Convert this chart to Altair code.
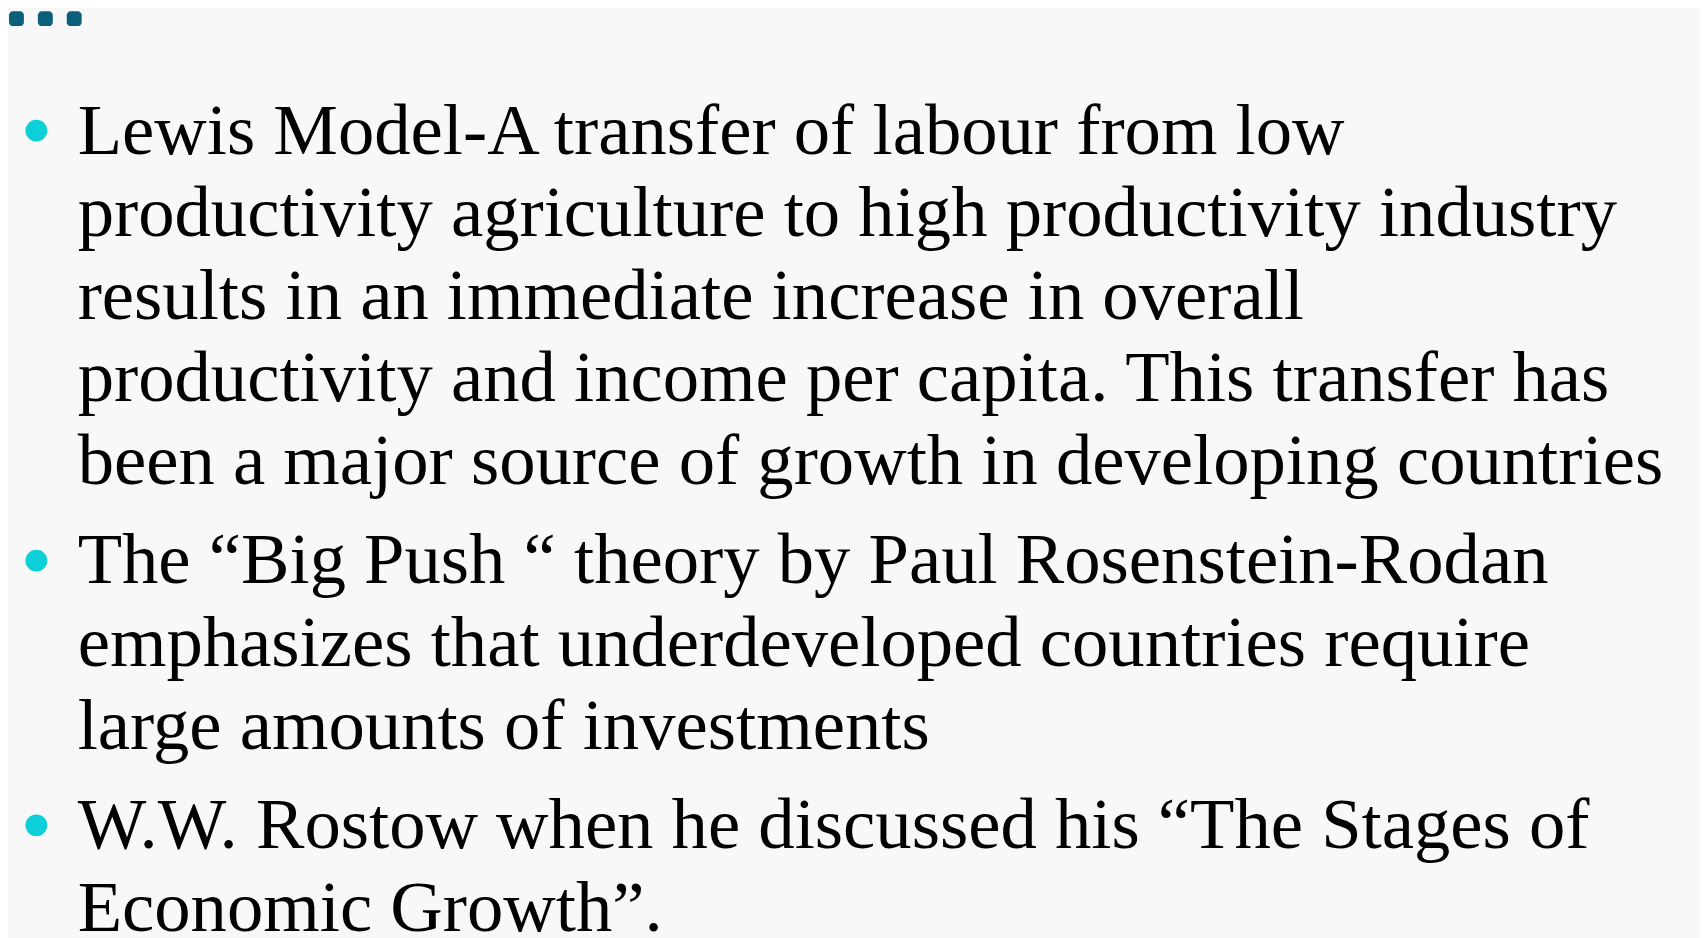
import altair as alt
import pandas as pd

# ---- content ----
BULLET_1 = [
    "Lewis Model-A transfer of labour from low",
    "productivity agriculture to high productivity industry",
    "results in an immediate increase in overall",
    "productivity and income per capita. This transfer has",
    "been a major source of growth in developing countries",
]
BULLET_2 = [
    "The “Big Push “ theory by Paul Rosenstein-Rodan",
    "emphasizes that underdeveloped countries require",
    "large amounts of investments",
]
BULLET_3 = [
    "W.W. Rostow when he discussed his “The Stages of",
    "Economic Growth”.",
]
BULLETS = [BULLET_1, BULLET_2, BULLET_3]
DECOR_DOTS = [0, 1, 2]

# ---- layout (screen pixels) ----
W, H, M = 1708, 938, 8
FIRST_BASELINE = 152
LINE_H = 83
PARA_EXTRA = 17
TEXT_X = 78
BULLET_X = 36.5
BULLET_RISE = 23
FONT = "Liberation Serif"
FONT_SIZE = 73

rows, bullets = [], []
g = 0
for p, lines in enumerate(BULLETS):
    for i, t in enumerate(lines):
        base = FIRST_BASELINE + g * LINE_H + p * PARA_EXTRA
        rows.append({"text": t, "x": TEXT_X, "y": base})
        if i == 0:
            bullets.append({"x": BULLET_X, "y": base - BULLET_RISE})
        g += 1
lines_df = pd.DataFrame(rows)
bullets_df = pd.DataFrame(bullets)
dots_df = pd.DataFrame({"i": DECOR_DOTS})
dots_df["x"] = 9 + dots_df["i"] * 29
dots_df["x2"] = dots_df["x"] + 15
dots_df["y"] = 9
dots_df["y2"] = 24

xs = alt.Scale(domain=[M, W], range=[0, W - M])
ys = alt.Scale(domain=[M, H], range=[0, H - M])

text = alt.Chart(lines_df).mark_text(
    align="left", baseline="alphabetic", font=FONT, fontSize=FONT_SIZE, color="#000000"
).encode(
    x=alt.X("x:Q", scale=xs, axis=None),
    y=alt.Y("y:Q", scale=ys, axis=None),
    text="text:N",
)

bul = alt.Chart(bullets_df).mark_circle(size=480, opacity=1, color="#0ccfd9").encode(
    x=alt.X("x:Q", scale=xs, axis=None),
    y=alt.Y("y:Q", scale=ys, axis=None),
)

dots = alt.Chart(dots_df).mark_rect(cornerRadius=4, color="#0b5f7a").encode(
    x=alt.X("x:Q", scale=xs, axis=None),
    x2="x2:Q",
    y=alt.Y("y:Q", scale=ys, axis=None),
    y2="y2:Q",
)

chart = alt.layer(dots, bul, text).properties(
    width=W - M, height=H - M, padding=0, autosize=alt.AutoSizeParams(type="none"),
    background="#f8f8f8",
).configure_view(stroke=None)

chart.save("out.html", embed_options={"renderer": "svg", "actions": False})
